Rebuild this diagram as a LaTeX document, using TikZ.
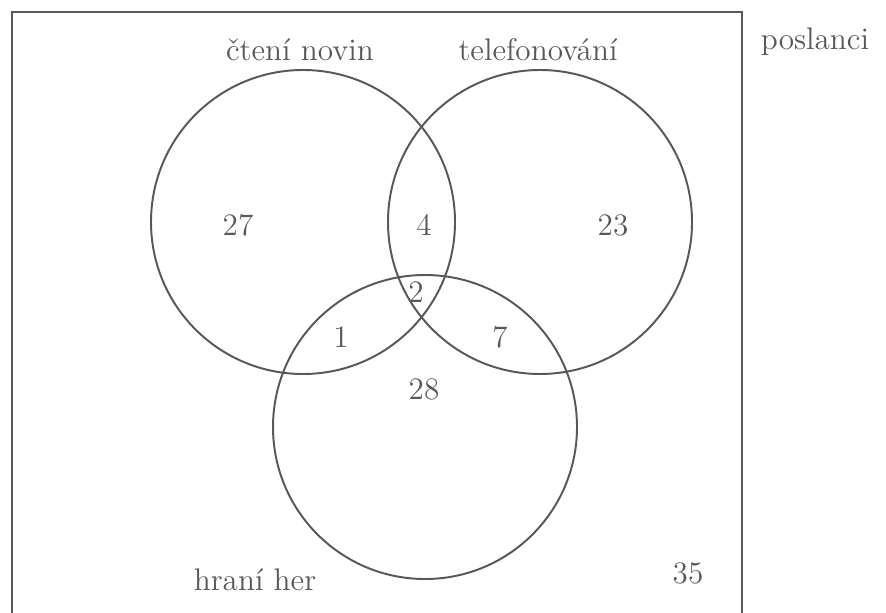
\documentclass[tikz,border=0pt]{standalone}
\usepackage{fontspec}
\usepackage{tikz}
\usetikzlibrary{positioning}

\definecolor{vennline}{RGB}{88,88,88}

\begin{document}
\begin{tikzpicture}
		[
		x = 0.0135cm,
		y = -0.0135cm,
		set/.style    = {circle, draw = vennline, line width = 0.75pt, minimum size = 304*0.0135cm, inner sep = 0pt},
		lbl/.style    = {text = vennline, font = \fontsize{12}{14}\selectfont, inner sep = 1pt},
		count/.style  = {lbl}
		]
		\useasboundingbox (0,0) rectangle (886,612);
		% universum
		\draw [draw = vennline, line width = 0.75pt] (12,12) rectangle (742,640);
		\node [lbl] (U) at (815,42) {poslanci};
		% mnoziny
		\node [set] (N) at (303,222) {};
		\node [set] (T) at (540,222) {};
		\node [set] (H) at (425,427) {};
		\node [lbl] (Nl) at (300,50)  {čtení novin};
		\node [lbl] (Tl) at (538,50)  {telefonování};
		\node [lbl] (Hl) at (255,580) {hraní her};
		% pocty
		\node [count] (n)   at (238,225) {27};
		\node [count] (nt)  at (424,225) {4};
		\node [count] (t)   at (613,225) {23};
		\node [count] (nth) at (416,292) {2};
		\node [count] (nh)  at (341,337) {1};
		\node [count] (th)  at (500,337) {7};
		\node [count] (h)   at (424,389) {28};
		\node [count] (o)   at (688,573) {35};
		\end{tikzpicture}
\end{document}
